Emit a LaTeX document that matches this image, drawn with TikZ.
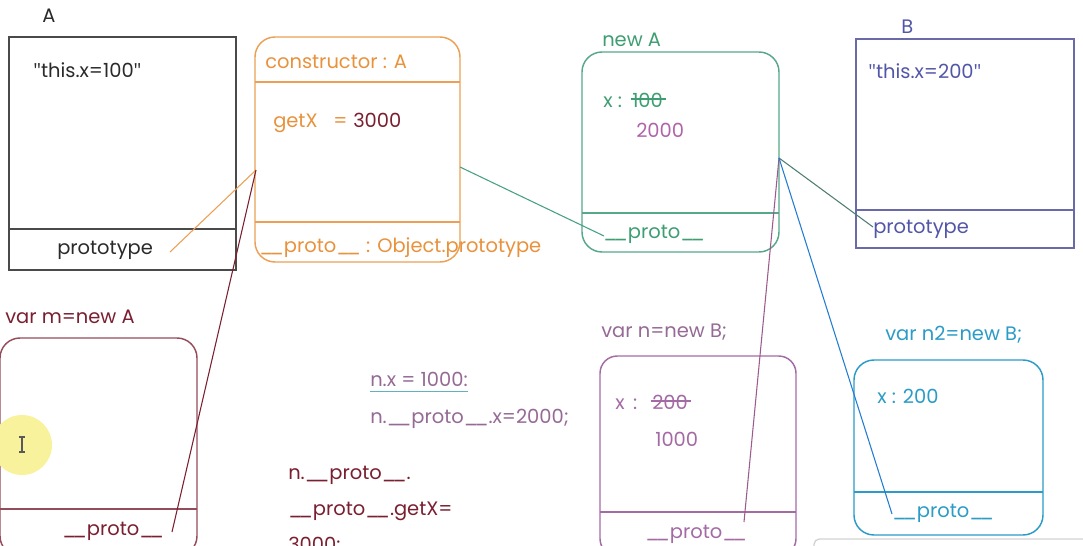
\documentclass[tikz,border=0pt]{standalone}
\usepackage{fontspec}
\setmainfont{Poppins}
\newfontfamily\quotefont{Open Sans}
\definecolor{ink}{HTML}{2A2A2A}
\definecolor{orng}{HTML}{EBA055}
\definecolor{orngtxt}{HTML}{E8923C}
\definecolor{maroon}{HTML}{7A1F30}
\definecolor{grn}{HTML}{3E9E72}
\definecolor{grnline}{HTML}{56A888}
\definecolor{pink}{HTML}{B064A8}
\definecolor{indigo}{HTML}{5256A8}
\definecolor{indline}{HTML}{6A6AA8}
\definecolor{purp}{HTML}{A46AA4}
\definecolor{purptxt}{HTML}{956A95}
\definecolor{cyan}{HTML}{2B9BC7}
\definecolor{slate}{HTML}{4F7D72}
\definecolor{hilite}{HTML}{F9F29C}
% a double underscore drawn as one stroke
\newcommand{\dus}{\_\kern-0.2em\_}
% straight double quote
\newcommand{\qt}{{\quotefont\symbol{34}}}
\begin{document}
\begin{tikzpicture}[x=0.75pt,y=-0.75pt,
  txt/.style={anchor=base west, inner sep=0pt, font=\fontsize{14.6}{17}\selectfont},
  frame/.style={line width=1.1pt},
  link/.style={line width=0.8pt},
  strike/.style={line width=1pt}]
\useasboundingbox (0,0) rectangle (1083,546);

% ---- constructor A ----
\node[txt, text=ink] (lblA) at (42,22) {A};
\draw[frame, ink!85] (9,37) rectangle (236,270);
\draw[frame, ink!85] (9,229) -- (236,229);
\node[txt, text=ink] (thisA) at (33,77) {\qt this.x=100\qt};
\node[txt, text=ink] (protA) at (57,254) {prototype};
\coordinate (protAend) at (170,252);

% ---- A.prototype ----
\draw[frame, orng, rounded corners=15] (255,37) rectangle (460,262);
\draw[frame, orng] (255,82) -- (460,82);
\draw[frame, orng] (255,222) -- (460,222);
\node[txt, text=orngtxt] (ctor) at (265,68) {constructor : A};
\node[txt, text=orngtxt] (getx) at (273,127) {getX};
\node[txt, text=orngtxt] (geteq) at (333,127) {=};
\node[txt, text=maroon] (getv) at (353,127) {3000};
\node[txt, text=orngtxt] (ctorproto) at (259,252) {\dus proto\dus\ : Object.prototype};
\coordinate (ctorL) at (256,170);
\coordinate (ctorR) at (460,167);

% ---- new A (B.prototype) ----
\node[txt, text=grn] (lblnewA) at (602,46) {new A};
\draw[frame, grnline, rounded corners=15] (582,52) rectangle (779,252);
\draw[frame, grnline] (582,213) -- (779,213);
\node[txt, text=grn] (nAx) at (603,107) {x :};
\node[txt, text=grn] (nAold) at (632,107) {100};
\draw[strike, grn] ([yshift=6pt,xshift=-1pt]nAold.base west) -- ([yshift=6pt,xshift=2pt]nAold.base east);
\node[txt, text=pink] (nAnew) at (636,137) {2000};
\node[txt, text=grn] (nAproto) at (603,238) {\dus proto\dus};
\coordinate (nAprotoIn) at (604,236);
\coordinate (nAR) at (779,158);

% ---- constructor B ----
\node[txt, text=indigo] (lblB) at (901,33) {B};
\draw[frame, indline] (856,39) rectangle (1074,248);
\draw[frame, indline] (856,210) -- (1074,210);
\node[txt, text=indigo] (thisB) at (868,78) {\qt this.x=200\qt};
\node[txt, text=indigo] (protB) at (873,233) {prototype};
\coordinate (protBin) at (873,227);

% ---- var m ----
\node[txt, text=maroon] (lblm) at (5,323) {var m=new A};
\draw[frame, maroon!80, rounded corners=15] (0,338) rectangle (197,556);
\draw[frame, maroon!80] (0,509) -- (197,509);
\node[txt, text=maroon] (mproto) at (62,535) {\dus proto\dus};
\coordinate (mprotoEnd) at (172,532);

% cursor highlight
\fill[hilite] (22,445) circle (30);
\draw[gray!70!black, line width=0.8pt] (22,437) -- (22,452) (19,437) -- (25,437) (19,452) -- (25,452);

% ---- statements ----
\node[txt, text=purptxt] (s1) at (370,386) {n.x = 1000:};
\draw[line width=1pt, cyan!60!teal!70] ([yshift=-4pt]s1.base west) -- ([yshift=-4pt]s1.base east);
\node[txt, text=purptxt] (s2) at (370,423) {n.\dus proto\dus.x=2000;};
\node[txt, text=maroon] (s3) at (288,479) {n.\dus proto\dus.};
\node[txt, text=maroon] (s4) at (288,515) {\dus proto\dus.getX=};
\node[txt, text=maroon] (s5) at (288,551) {3000:};

% ---- var n ----
\node[txt, text=purptxt] (lbln) at (601,337) {var n=new B;};
\draw[frame, purp, rounded corners=13] (600,356) rectangle (796,556);
\draw[frame, purp] (600,512) -- (796,512);
\node[txt, text=purp] (nx) at (615,409) {x \,:};
\node[txt, text=purp] (nold) at (652,409) {200};
\draw[strike, purp] ([yshift=6pt,xshift=-1pt]nold.base west) -- ([yshift=6pt,xshift=2pt]nold.base east);
\node[txt, text=purp] (nnew) at (655,446) {1000};
\node[txt, text=purp] (nproto) at (645,538) {\dus proto\dus};
\coordinate (nprotoEnd) at (744,522);

% ---- var n2 ----
\node[txt, text=cyan] (lbln2) at (885,340) {var n2=new B;};
\draw[frame, cyan, rounded corners=15] (854,360) rectangle (1043,535);
\draw[frame, cyan] (854,492) -- (1043,492);
\node[txt, text=cyan] (n2x) at (877,403) {x : 200};
\node[txt, text=cyan] (n2proto) at (892,517) {\dus proto\dus};
\coordinate (n2protoEnd) at (892,514);

% ---- links ----
\draw[link, orng] (protAend) -- (ctorL);
\draw[link, maroon] (mprotoEnd) -- (ctorL);
\draw[link, grnline!80!teal] (ctorR) -- (nAprotoIn);
\draw[link, slate] (nAR) -- (protBin);
\draw[link, purp!80!maroon] (nprotoEnd) -- (nAR);
\draw[link, cyan!80!blue] (n2protoEnd) -- (nAR);

% panel edge at the lower right
\draw[gray!35, line width=1pt, rounded corners=4] (814,550) -- (814,539) -- (1090,539);
\end{tikzpicture}
\end{document}
